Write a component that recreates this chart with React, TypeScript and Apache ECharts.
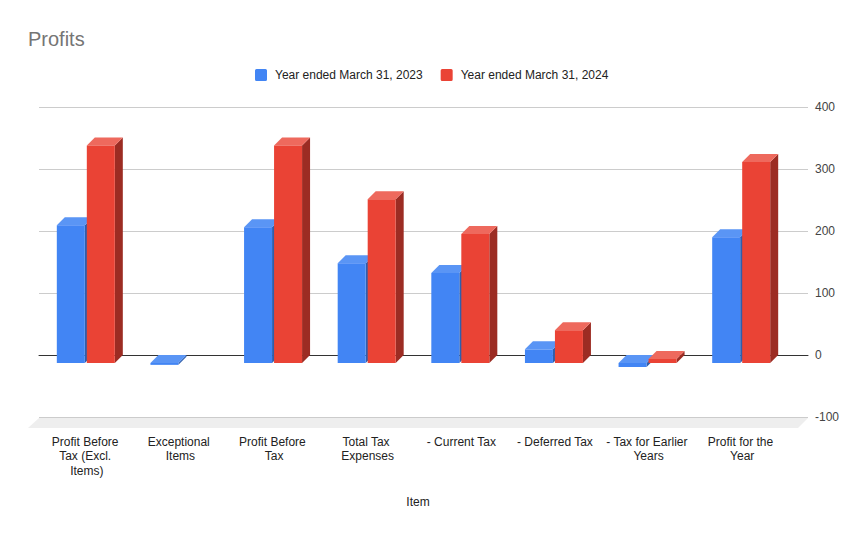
import React, { useEffect, useRef } from "react";
import * as echarts from "echarts";

const categories = [
  "Profit Before Tax (Excl. Items)",
  "Exceptional Items",
  "Profit Before Tax",
  "Total Tax Expenses",
  "- Current Tax",
  "- Deferred Tax",
  "- Tax for Earlier Years",
  "Profit for the Year",
];
const fy2023 = [222, -3, 219, 161, 145, 22, -6.5, 203];
const fy2024 = [351, null, 351, 264, 208, 53, 6.5, 324];
const seriesNames = ["Year ended March 31, 2023", "Year ended March 31, 2024"];
const FONT = "'Liberation Sans', Arial, sans-serif";
const LEGEND_ICON = "path://M1.5,0H10.5A1.5,1.5 0 0 1 12,1.5V10.5A1.5,1.5 0 0 1 10.5,12H1.5A1.5,1.5 0 0 1 0,10.5V1.5A1.5,1.5 0 0 1 1.5,0Z";

const palette = [
  { front: "#4285f4", top: "#5a95f5", side: "#2f5eac" },
  { front: "#ea4335", top: "#ee695d", side: "#9c2c23" },
];

function cuboid(offset: number, colors: { front: string; top: string; side: string }) {
  return (_params: any, api: any) => {
    const idx = api.value(0);
    const val = api.value(1);
    const [cx, y0] = api.coord([idx, 0]);
    const [, yv] = api.coord([idx, val]);
    const x1 = cx + offset;
    const w = 28;
    const d = 8;
    const topY = Math.min(y0, yv);
    const botY = Math.max(y0, yv);
    return {
      type: "group",
      children: [
        {
          type: "polygon",
          shape: { points: [[x1 + w, topY], [x1 + w + d, topY - d], [x1 + w + d, botY - d], [x1 + w, botY]] },
          style: { fill: colors.side },
        },
        {
          type: "polygon",
          shape: { points: [[x1, topY], [x1 + d, topY - d], [x1 + w + d, topY - d], [x1 + w, topY]] },
          style: { fill: colors.top },
        },
        { type: "rect", shape: { x: x1, y: topY, width: w, height: botY - topY }, style: { fill: colors.front } },
      ],
    };
  };
}

const toData = (arr: (number | null)[]) =>
  arr.map((v, i) => (v === null ? null : [i, v])).filter(Boolean);

export default function App() {
  const ref = useRef<HTMLDivElement>(null);
  useEffect(() => {
    const chart = echarts.init(ref.current!, undefined, { renderer: "svg" });
    chart.setOption({
      animation: false,
      backgroundColor: "#fff",
      title: {
        text: "Profits",
        left: 28,
        top: 29,
        padding: 0,
        textStyle: { fontFamily: FONT, fontSize: 20, fontWeight: "normal", color: "#757575" },
      },
      legend: {
        top: 69,
        left: 255,
        padding: 0,
        itemWidth: 12,
        itemHeight: 12,
        itemGap: 18,
        icon: LEGEND_ICON,
        data: seriesNames,
        textStyle: { fontFamily: FONT, fontSize: 12, color: "#222", padding: [0, 0, 0, 3] },
      },
      grid: [
        { left: 39, top: 107, width: 769, height: 310 },
        { left: 39, top: 115, width: 749, height: 310 },
      ],
      xAxis: [
        {
          type: "category",
          gridIndex: 0,
          data: categories,
          axisLine: { onZero: true, lineStyle: { color: "#333", width: 1 } },
          axisTick: { show: false },
          axisLabel: { show: false },
        },
        {
          type: "category",
          gridIndex: 1,
          data: categories,
          name: "Item",
          nameLocation: "middle",
          nameGap: 71,
          nameTextStyle: { fontFamily: FONT, fontSize: 12, color: "#222", padding: [0, 0, 0, 9] },
          axisLine: { show: false, onZero: false },
          axisTick: { show: false },
          axisLabel: {
            interval: 0,
            margin: 9.5,
            width: 88,
            overflow: "break",
            lineHeight: 14.5,
            fontFamily: FONT,
            fontSize: 12,
            color: "#222",
            padding: [0, 0, 0, 2],
          },
        },
      ],
      yAxis: [
        {
          type: "value",
          gridIndex: 0,
          position: "right",
          min: -100,
          max: 400,
          interval: 100,
          axisLine: { show: false },
          axisTick: { show: false },
          axisLabel: { margin: 7, align: "left", fontFamily: FONT, fontSize: 12, color: "#444" },
          splitLine: { lineStyle: { color: "#ccc", width: 1 } },
        },
        {
          type: "value",
          gridIndex: 1,
          min: -100,
          max: 400,
          interval: 100,
          show: false,
          splitLine: { show: false },
        },
      ],
      graphic: [
        {
          type: "polygon",
          z: -1,
          shape: { points: [[39, 418], [808, 418], [798, 428], [28, 428]] },
          style: { fill: "#eeeeee" },
        },
      ],
      series: [
        {
          type: "custom",
          name: seriesNames[0],
          xAxisIndex: 1,
          yAxisIndex: 1,
          z: 5,
          clip: false,
          itemStyle: { color: palette[0].front },
          encode: { x: 0, y: 1 },
          data: toData(fy2023),
          renderItem: cuboid(-29, palette[0]),
        },
        {
          type: "custom",
          name: seriesNames[1],
          xAxisIndex: 1,
          yAxisIndex: 1,
          z: 6,
          clip: false,
          itemStyle: { color: palette[1].front },
          encode: { x: 0, y: 1 },
          data: toData(fy2024),
          renderItem: cuboid(1, palette[1]),
        },
      ],
    });
    return () => chart.dispose();
  }, []);
  return <div ref={ref} style={{ position: "absolute", left: 0, top: 0, width: 866, height: 536 }} />;
}
